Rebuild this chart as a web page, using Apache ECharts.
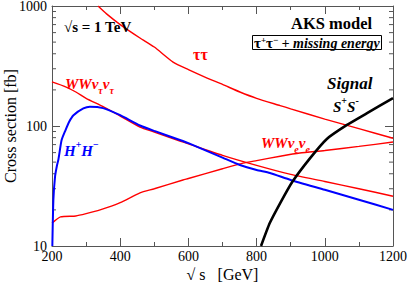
<!DOCTYPE html>
<html><head><meta charset="utf-8">
<script src="https://cdn.jsdelivr.net/npm/echarts@6/dist/echarts.min.js"></script>
<style>html,body{margin:0;padding:0;background:#fff}#c{width:409px;height:282px}</style>
</head><body><div id="c"></div>
<script>
// sqrt(s) [GeV], cross section [fb]
const tautau = [[335,1000],[360,860],[400,700],[458,541],[500,455],[555,341],[600,295],[655,251],[700,222],[751,192],[800,170],[869,148],[900,139],[1000,114],[1100,95],[1200,79]];
const wwTau  = [[200,233],[240,212],[270,192],[300,170],[350,145],[400,121],[458,98],[500,89],[575,75],[600,71],[700,57],[800,47],[900,39.5],[1000,34.5],[1100,30],[1200,26]];
const wwE    = [[200,15.5],[225,17.5],[270,17.8],[300,18.6],[341,20],[400,23],[458,27.7],[500,30],[584,35.5],[600,36.5],[700,44],[760,49],[800,51.5],[869,56],[927,59.6],[1000,62.5],[1100,67.6],[1200,73.5]];
const hh     = [[201,10],[204,24],[209,38],[214,46],[219,53],[228,76],[238,90],[250,108],[263,123],[292,140],[311,145],[350,141],[400,123],[458,101],[500,91],[575,76.5],[600,72],[700,54.5],[751,47.3],[800,43],[839,40.6],[900,35.5],[1000,29.4],[1100,24.3],[1200,20]];
const signal = [[813,10],[839,15.6],[870,23],[904,34],[957,54],[1006,78],[1065,102],[1124,128],[1200,171]];
const xTicks = [200,400,600,800,1000,1200];
const yMajor = [10,100,1000];
const yMinor = [20,30,40,50,60,70,80,90,200,300,400,500,600,700,800,900];

const FONT = "Liberation Serif";
const chart = echarts.init(document.getElementById('c'), null, {renderer:'svg'});
const axisColor = '#555';
function xAxisDef(pos, labels){
  return {
    type:'value', position:pos, min:200, max:1200, interval:200,
    axisLine:{show:true, onZero:false, lineStyle:{color:axisColor,width:1}},
    axisTick:{show:true, inside:true, length:8, lineStyle:{color:axisColor}},
    minorTick:{show:true, splitNumber:2, length:4, lineStyle:{color:axisColor}},
    splitLine:{show:false},
    axisLabel:{show:labels, color:'#000', fontFamily:FONT, fontSize:14, margin:3,
      formatter:(v)=> xTicks.includes(v)? String(v):''},
    name: labels ? '\u221A s   [GeV]' : '',
    nameLocation:'middle', nameGap:20, nameMoveOverlap:false,
    nameTextStyle:{color:'#000', fontFamily:FONT, fontSize:16, verticalAlign:'top'}
  };
}
function yAxisDef(pos, labels){
  return {
    type:'log', logBase:10, position:pos, min:10, max:1000,
    axisLine:{show:true, onZero:false, lineStyle:{color:axisColor,width:1}},
    axisTick:{show:true, inside:true, length:8, lineStyle:{color:axisColor}},
    splitLine:{show:false},
    axisLabel:{show:labels, color:'#000', fontFamily:FONT, fontSize:14, margin:5,
      formatter:(v)=> yMajor.includes(Math.round(v))? String(Math.round(v)):''},
    name: labels ? 'Cross section [fb]' : '',
    nameLocation:'middle', nameGap:34, nameRotate:90, nameMoveOverlap:false,
    nameTextStyle:{color:'#000', fontFamily:FONT, fontSize:16}
  };
}
function line(data, color, width, smooth){
  return {type:'line', data:data, symbol:'none', smooth:smooth, clip:true,
    lineStyle:{color:color, width:width}, xAxisIndex:0, yAxisIndex:0, z:3};
}
const sub = {fontSize:10, lineHeight:10, verticalAlign:'bottom', fontFamily:FONT, fontStyle:'italic', fontWeight:'bold'};
const sup = {fontSize:10, lineHeight:10, verticalAlign:'top', fontFamily:FONT, fontWeight:'bold'};
function rich(color, size){
  return {
    a:{fontSize:size, lineHeight:size+8, verticalAlign:'middle', fontFamily:FONT, fontStyle:'italic', fontWeight:'bold', color:color},
    s:Object.assign({}, sub, {color:color}),
    p:Object.assign({}, sup, {color:color})
  };
}
function label(text, left, top, r){
  return {text:text, left:left, top:top, padding:0, textStyle:{rich:r}};
}
const option = {
  animation:false,
  backgroundColor:'#fff',
  grid:{left:52, right:16, top:6, bottom:36, containLabel:false, outerBoundsMode:'none'},
  xAxis:[xAxisDef('bottom', true), xAxisDef('top', false)],
  yAxis:[yAxisDef('left', true), yAxisDef('right', false)],
  title:[
    {text:'\u221As = 1 TeV', left:64, top:19, padding:0, textStyle:{fontFamily:FONT, fontSize:15, fontWeight:'bold', color:'#000'}},
    {text:'AKS model', left:291, top:15, padding:0, textStyle:{fontFamily:FONT, fontSize:16.5, fontWeight:'bold', color:'#000'}},
    {text:'{t|\u03C4}{p|+}{t|\u03C4}{p|\u2212}{m| + missing energy}', left:252, top:35, padding:[0,2,0,2],
      borderColor:'#000', borderWidth:1,
      textStyle:{rich:{
        t:{fontSize:15, lineHeight:15, verticalAlign:'bottom', fontFamily:FONT, color:'#000'},
        p:{fontSize:9, lineHeight:9, verticalAlign:'top', fontFamily:FONT, color:'#000'},
        m:{fontSize:14, lineHeight:15, verticalAlign:'bottom', fontFamily:FONT, fontStyle:'italic', fontWeight:'bold', color:'#000'}
      }}},
    {text:'\u03C4\u03C4', left:193, top:46, padding:0, textStyle:{fontFamily:FONT, fontSize:16, color:'#f00'}},
    label('{a|WW\u03BD}{s|\u03C4}{a|\u03BD}{s|\u03C4}', 65, 72, rich('#f00',15)),
    label('{a|H}{p|+}{a|H}{p|\u2212}', 64, 139, rich('#00f',15)),
    label('{a|WW\u03BD}{s|e}{a|\u03BD}{s|e}', 261, 131, rich('#f00',15)),
    {text:'Signal', left:327, top:75, padding:0, textStyle:{fontFamily:FONT, fontSize:17, fontStyle:'italic', fontWeight:'bold', color:'#000'}},
    label('{a|S}{p|+}{a|S}{p|-}', 333, 95, rich('#000',15))
  ],
  series:[
    line(tautau,'#f00',1.4,0.2),
    line(wwTau,'#f00',1.4,0.2),
    line(wwE,'#f00',1.4,0.2),
    line(hh,'#00f',2,0.2),
    line(signal,'#000',2.6,0.2),
    {type:'custom', xAxisIndex:0, yAxisIndex:0, silent:true, z:2,
      data:yMinor.map(v=>[200,v]),
      renderItem:function(params, api){
        const v = api.value(1);
        const l = api.coord([200, v]);
        const r = api.coord([1200, v]);
        return {type:'group', children:[
          {type:'line', shape:{x1:l[0], y1:l[1], x2:l[0]+4, y2:l[1]}, style:{stroke:axisColor, lineWidth:1}},
          {type:'line', shape:{x1:r[0], y1:r[1], x2:r[0]-4, y2:r[1]}, style:{stroke:axisColor, lineWidth:1}}
        ]};
      }}
  ]
};
chart.setOption(option);
</script></body></html>
